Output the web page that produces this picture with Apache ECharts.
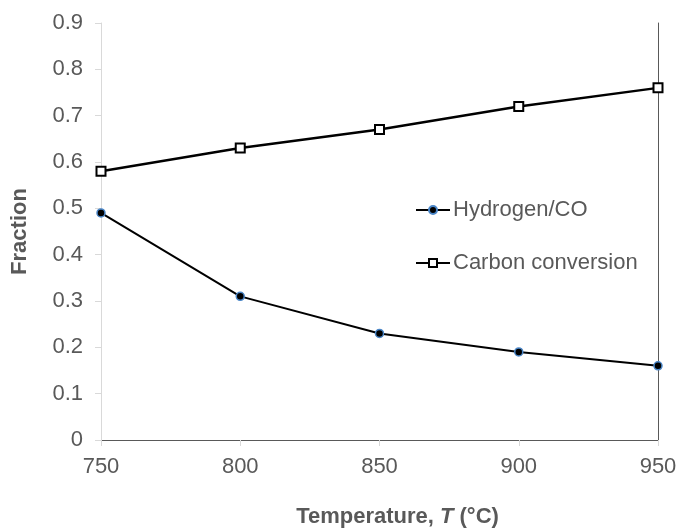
<!DOCTYPE html>
<html><head><meta charset="utf-8">
<script src="https://cdn.jsdelivr.net/npm/echarts@6/dist/echarts.min.js"></script>
<style>html,body{margin:0;padding:0;background:#fff}#c{width:679px;height:528px}</style>
</head><body><div id="c"></div>
<script>
const temps = [750, 800, 850, 900, 950];
const hydrogenCO = [0.49, 0.31, 0.23, 0.19, 0.16];
const carbonConversion = [0.58, 0.63, 0.67, 0.72, 0.76];
const seriesNames = ['Hydrogen/CO', 'Carbon conversion'];

const chart = echarts.init(document.getElementById('c'));
const font = 'Liberation Sans, Arial, sans-serif';
const lbl = {color:'#595959', fontSize:22, fontFamily:font};
chart.setOption({
  animation:false,
  backgroundColor:'#fff',
  grid:{left:101, right:21, top:23, bottom:88, outerBoundsMode:'none', containLabel:false},
  legend:{
    orient:'vertical', left:410, top:194, itemGap:31, itemWidth:34, itemHeight:10,
    textStyle:{color:'#595959', fontSize:22, fontFamily:font, padding:[0,0,0,-2]},
    data:seriesNames
  },
  xAxis:[{
    type:'value', min:750, max:950, interval:50,
    name:'Temperature, {i|T} (°C)', nameLocation:'middle', nameGap:66,
    nameTextStyle:{color:'#595959', fontSize:22, fontWeight:'bold', fontFamily:font, padding:[0,0,0,36],
      rich:{i:{fontStyle:'italic', fontWeight:'bold', color:'#595959', fontSize:22, fontFamily:font}}},
    axisLine:{show:true, lineStyle:{color:'#d9d9d9', width:1}},
    axisTick:{show:true, length:6, lineStyle:{color:'#d9d9d9'}},
    axisLabel:Object.assign({margin:16}, lbl),
    splitLine:{show:false}
  },{
    type:'value', min:750, max:950, position:'top',
    axisLine:{show:true, lineStyle:{color:'#595959', width:1}},
    axisTick:{show:false}, axisLabel:{show:false}, splitLine:{show:false}
  }],
  yAxis:[{
    type:'value', min:0, max:0.9, interval:0.1,
    name:'Fraction', nameLocation:'middle', nameGap:70, nameRotate:90,
    nameTextStyle:{color:'#595959', fontSize:22, fontWeight:'bold', fontFamily:font},
    axisLine:{show:true, lineStyle:{color:'#d9d9d9', width:1}},
    axisTick:{show:true, length:6, lineStyle:{color:'#d9d9d9'}},
    axisLabel:Object.assign({margin:18, formatter:v=>String(+v.toFixed(1))}, lbl),
    splitLine:{show:false}
  },{
    type:'value', min:0, max:0.9, position:'right',
    axisLine:{show:true, lineStyle:{color:'#595959', width:1}},
    axisTick:{show:false}, axisLabel:{show:false}, splitLine:{show:false}
  }],
  series:[{
    name:seriesNames[0], type:'line',
    data:temps.map((t,i)=>[t, hydrogenCO[i]]),
    symbol:'circle', symbolSize:8,
    lineStyle:{color:'#000', width:2},
    itemStyle:{color:'#000', borderColor:'#4a86c8', borderWidth:1.5}
  },{
    name:seriesNames[1], type:'line',
    data:temps.map((t,i)=>[t, carbonConversion[i]]),
    symbol:'rect', symbolSize:9,
    lineStyle:{color:'#000', width:2.5},
    itemStyle:{color:'#fff', borderColor:'#000', borderWidth:2}
  }]
});
</script></body></html>
